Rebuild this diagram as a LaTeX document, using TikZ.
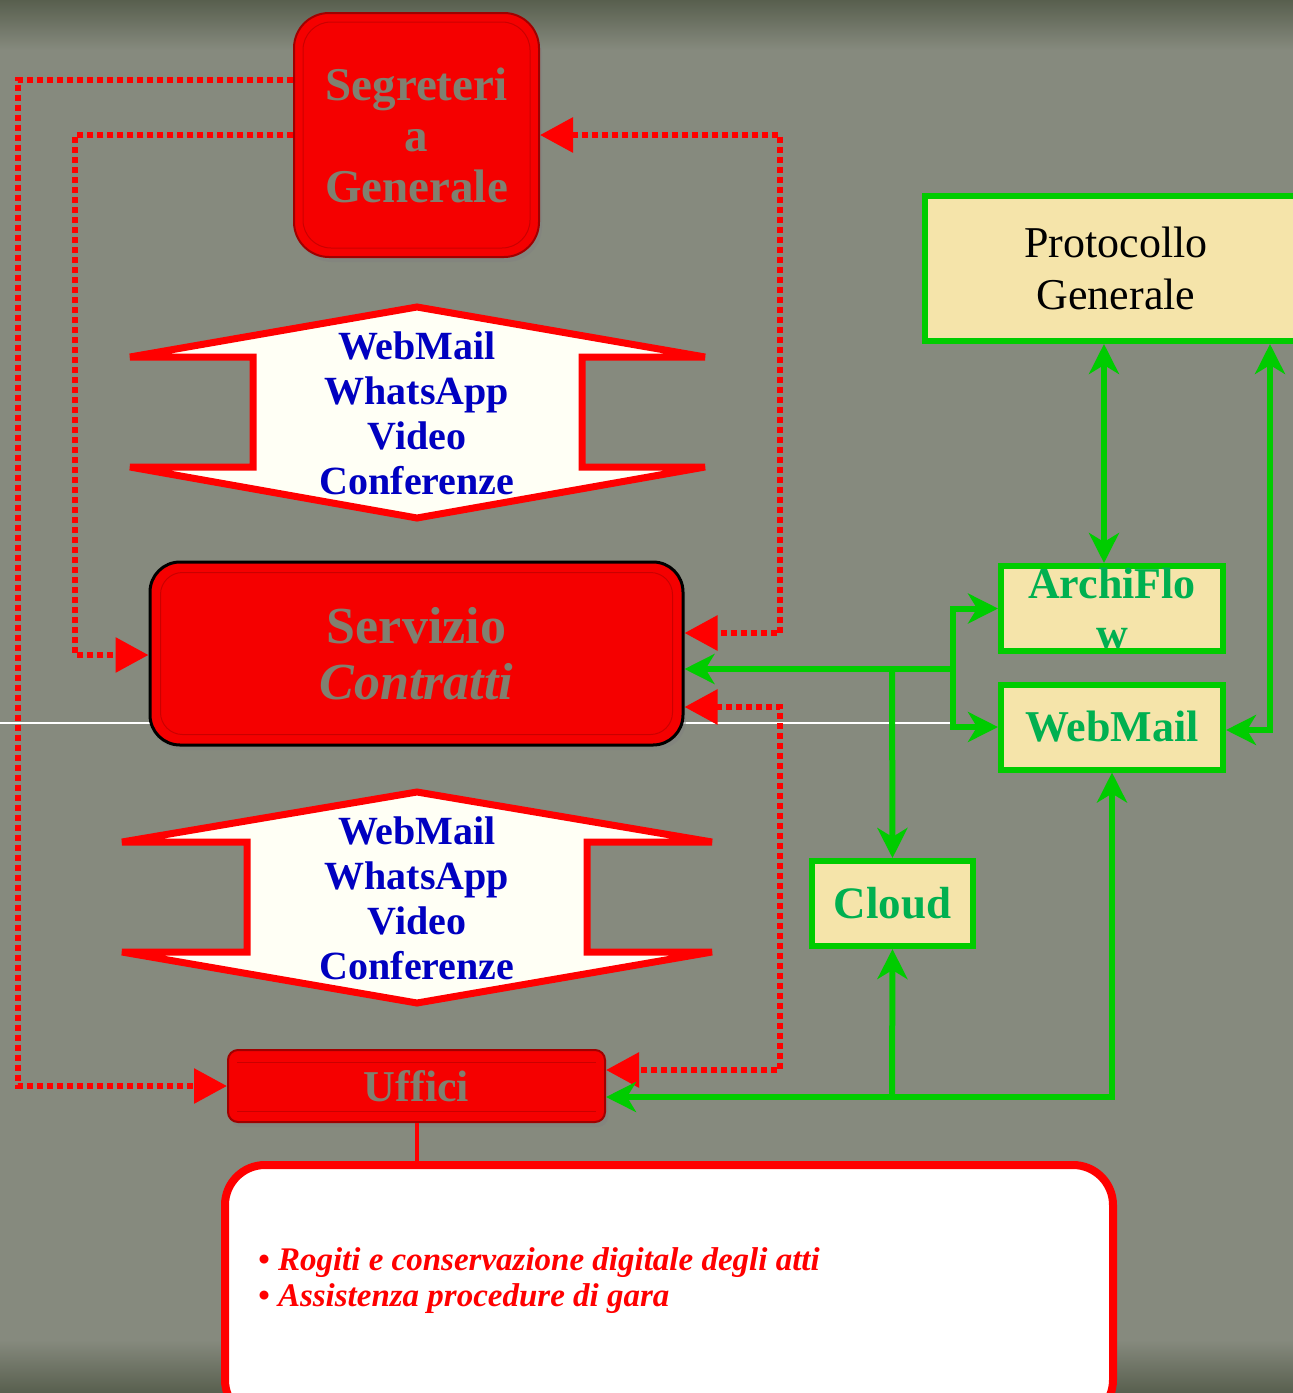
\documentclass[tikz,border=0pt]{standalone}
\usepackage{fontspec}
\setmainfont{Liberation Serif}
\usetikzlibrary{arrows.meta,shadows,calc}

\definecolor{bg}{RGB}{134,138,126}
\definecolor{bgdark}{RGB}{88,95,78}
\definecolor{boxred}{RGB}{245,0,0}
\definecolor{edgered}{RGB}{160,0,0}
\definecolor{boxtext}{RGB}{128,128,112}
\definecolor{linkred}{RGB}{255,0,0}
\definecolor{linkgreen}{RGB}{0,204,0}
\definecolor{textgreen}{RGB}{0,176,80}
\definecolor{wheat}{RGB}{245,228,170}
\definecolor{navy}{RGB}{0,0,192}
\definecolor{paper}{RGB}{255,255,245}

\tikzset{
  redtip/.tip={Triangle[length=33pt,width=34pt]},
  gtip/.tip={Stealth[length=30pt,width=30pt,inset=9pt]},
}

\begin{document}
\begin{tikzpicture}[x=1pt,y=-1pt,
  redbox/.style={rectangle, fill=boxred, draw=edgered, line width=2pt,
    text=boxtext, align=center, inner sep=0pt,
    drop shadow={opacity=0.45, shadow xshift=3pt, shadow yshift=-5pt}},
  greenbox/.style={rectangle, fill=wheat, draw=linkgreen, line width=6pt,
    align=center, inner sep=0pt},
  reddot/.style={draw=linkred, line width=6pt, dash pattern=on 6pt off 4pt},
  gline/.style={draw=linkgreen, line width=6pt},
  channel/.style={fill=paper, draw=linkred, line width=7pt, line join=miter},
  chantext/.style={text=navy, align=center, inner sep=0pt,
    font=\fontsize{40}{45}\selectfont\bfseries},
  bevel/.style={draw=edgered, draw opacity=0.5, line width=1pt},
]
\useasboundingbox (0,0) rectangle (1293,1393);
\clip (0,0) rectangle (1293,1393);

% backdrop
\fill[bg] (0,0) rectangle (1293,1393);
\shade[top color=bgdark, bottom color=bg] (0,0) rectangle (1293,50);
\shade[top color=bg, bottom color=bgdark] (0,1340) rectangle (1293,1393);
\draw[white, line width=1.5pt] (0,723) -- (952,723);

% offices
\node[redbox, rounded corners=35pt, minimum width=245pt, minimum height=244pt,
      font=\fontsize{47}{51}\selectfont\bfseries] (seg) at (416.5,135)
      {Segreteri\\a\\Generale};
\draw[bevel, rounded corners=28pt] ([shift={(10,10)}]seg.north west) rectangle ([shift={(-10,-10)}]seg.south east);

\node[redbox, draw=black, line width=3pt, rounded corners=30pt,
      minimum width=533pt, minimum height=183pt,
      font=\fontsize{52}{56}\selectfont\bfseries] (sc) at (416.5,653.5)
      {Servizio\\\textit{Contratti}};
\draw[bevel, rounded corners=22pt] ([shift={(12,12)}]sc.north west) rectangle ([shift={(-12,-12)}]sc.south east);

\node[redbox, rounded corners=10pt, minimum width=377pt, minimum height=72pt,
      font=\fontsize{44}{48}\selectfont\bfseries] (uff) at (416.5,1086)
      {Uffici};
\draw[bevel] ([shift={(10,13)}]uff.north west) -- ([shift={(-10,13)}]uff.north east);
\draw[bevel] ([shift={(10,-12)}]uff.south west) -- ([shift={(-10,-12)}]uff.south east);

% communication channels
\draw[channel] (417,307) -- (705,357) -- (582,357) -- (582,467) -- (705,467)
  -- (417,518) -- (130,467) -- (253,467) -- (253,357) -- (130,357) -- cycle;
\node[chantext] (chanA) at (417,413) {WebMail\\WhatsApp\\Video\\Conferenze};

\draw[channel] (417,792) -- (712,842) -- (587,842) -- (587,952) -- (712,952)
  -- (417,1003) -- (122,952) -- (247,952) -- (247,842) -- (122,842) -- cycle;
\node[chantext] (chanB) at (417,898) {WebMail\\WhatsApp\\Video\\Conferenze};

% systems
\node[greenbox, minimum width=382pt, minimum height=145pt,
      font=\fontsize{44}{52}\selectfont] (prot) at (1116,268.5)
      {Protocollo\\Generale};
\node[greenbox, minimum width=222pt, minimum height=85pt, text=textgreen,
      font=\fontsize{44}{50}\selectfont\bfseries] (arch) at (1112,608.5)
      {ArchiFlo\\w};
\node[greenbox, minimum width=222pt, minimum height=85pt, text=textgreen,
      font=\fontsize{44}{50}\selectfont\bfseries] (wm) at (1112,727)
      {WebMail};
\node[greenbox, minimum width=161pt, minimum height=85pt, text=textgreen,
      font=\fontsize{45}{50}\selectfont\bfseries] (cloud) at (892.5,903.5)
      {Cloud};

% activities
\node[rectangle, rounded corners=40pt, fill=white, draw=linkred, line width=8pt,
      minimum width=888pt, minimum height=255pt] (note) at (669,1292.5) {};
\node[anchor=west, text=linkred, align=left, inner sep=0pt,
      font=\fontsize{33}{36}\selectfont\bfseries\itshape] (notetext) at (258,1281)
      {• Rogiti e conservazione digitale degli atti\\• Assistenza procedure di gara};
\draw[linkred, line width=4pt] (uff.south) -- (note.north -| uff.south);

% dotted red links
\coordinate (oL) at (18,0);
\coordinate (iL) at (75,0);
\coordinate (rR) at (780,0);
\draw[reddot, -{redtip}] (seg.west |- 0,80) -| (oL |- uff.west) -- (uff.west);
\draw[reddot, -{redtip}] (seg.west |- 0,135) -| (iL |- 0,655) -- (sc.west |- 0,655);
\draw[reddot, {redtip}-{redtip}] (seg.east |- 0,135) -| (rR |- 0,633) -- (sc.east |- 0,633);
\draw[reddot, {redtip}-{redtip}] (sc.east |- 0,707) -| (rR |- 0,1070) -- (uff.east |- 0,1070);

% green links
\coordinate (J) at (953,669);
\coordinate (K) at (892,669);
\coordinate (B) at (892,1097);
\draw[gline, {gtip}-{gtip}] (prot.south -| 1104,0) -- (arch.north -| 1104,0);
\draw[gline, {gtip}-{gtip}] (prot.south -| 1270,0) |- (wm.east |- 0,730);
\draw[gline, -{gtip}] (J) -- (sc.east |- J);
\draw[gline, -{gtip}] (J) |- (arch.west);
\draw[gline, -{gtip}] (J) |- (wm.west);
\draw[gline, -{gtip}] (K) -- (cloud.north);
\draw[gline, {gtip}-{gtip}] (wm.south) |- (uff.east |- 0,1097);
\draw[gline, -{gtip}] (B) -- (cloud.south);
\end{tikzpicture}
\end{document}
